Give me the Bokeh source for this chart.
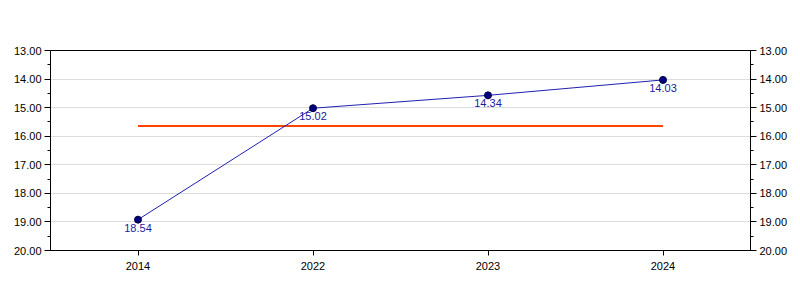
from bokeh.plotting import figure
from bokeh.models import Range1d, FactorRange, LinearAxis, FixedTicker, NumeralTickFormatter, ColumnDataSource
from bokeh.core.properties import value
from bokeh.embed import file_html
from bokeh.resources import INLINE

years = ["2014", "2022", "2023", "2024"]
values = [18.92, 15.02, 14.57, 14.03]
labels = ["18.54", "15.02", "14.34", "14.03"]
reference = [15.645, 15.645, 15.645, 15.645]
y_ticks = [13, 14, 15, 16, 17, 18, 19, 20]
y_minor = [13.5, 14.5, 15.5, 16.5, 17.5, 18.5, 19.5]

FONT = "Liberation Sans"

p = figure(width=800, height=300, x_range=FactorRange(factors=years, range_padding=0),
           y_range=Range1d(20, 13), output_backend="svg", toolbar_location=None,
           min_border_left=50, min_border_right=50, min_border_top=50, min_border_bottom=50)
p.background_fill_color = "white"
p.border_fill_color = "white"
p.outline_line_color = "black"
p.outline_line_width = 1
p.outline_line_alpha = 1

p.xgrid.visible = False
p.ygrid.grid_line_color = "#dcdcdc"
p.ygrid.grid_line_width = 1

ticker = FixedTicker(ticks=y_ticks, minor_ticks=y_minor)
p.yaxis.ticker = ticker
p.ygrid.ticker = ticker
p.yaxis.formatter = NumeralTickFormatter(format="0.00")

right = LinearAxis(ticker=FixedTicker(ticks=y_ticks, minor_ticks=y_minor),
                   formatter=NumeralTickFormatter(format="0.00"))
p.add_layout(right, "right")

for ax in [p.yaxis[0], right, p.xaxis[0]]:
    ax.axis_line_color = "black"
    ax.major_tick_line_color = "black"
    ax.minor_tick_line_color = "black"
    ax.major_tick_out = 6
    ax.major_tick_in = 0
    ax.minor_tick_out = 3
    ax.minor_tick_in = 0
    ax.major_label_text_font = FONT
    ax.major_label_text_font_size = "11px"
    ax.major_label_text_color = "black"
    ax.major_label_standoff = 3
p.xaxis.major_tick_out = 5
p.xaxis.major_label_standoff = 6

src = ColumnDataSource(dict(x=years, y=values, lab=labels, ref=reference))

p.line(x="x", y="ref", source=src, line_color="#ff4500", line_width=2)
p.line(x="x", y="y", source=src, line_color="#2020b0", line_width=1)
p.scatter(x="x", y="y", source=src, size=7, fill_color="#000080", line_color="#000040")
p.text(x="x", y="y", text="lab", source=src, text_align="center", text_baseline="top",
       y_offset=4, text_font=value(FONT), text_font_size="11px", text_color="#1a1aa0")

open("out.html", "w").write(file_html(p, INLINE))
